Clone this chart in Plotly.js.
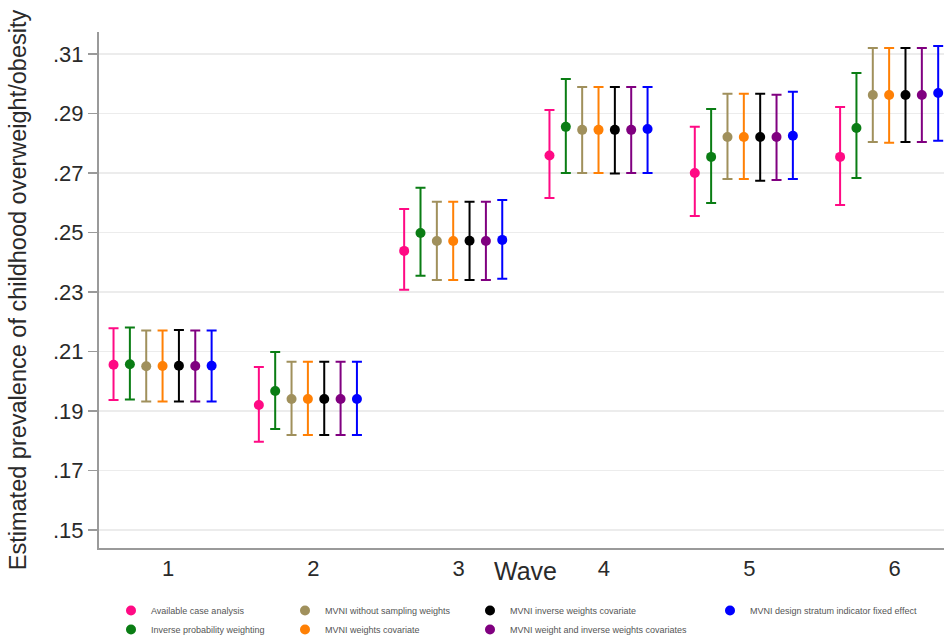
<!DOCTYPE html>
<html>
<head>
<meta charset="utf-8">
<script src="https://cdn.plot.ly/plotly-3.0.1.min.js"></script>
<style>html,body{margin:0;padding:0;background:#fff;}#chart{width:944px;height:639px;}</style>
</head>
<body>
<div id="chart"></div>
<script>
// ---- data ----
const waves = [1, 2, 3, 4, 5, 6];
const seriesNames = [
  "Available case analysis",
  "Inverse probability weighting",
  "MVNI without sampling weights",
  "MVNI weights covariate",
  "MVNI inverse weights covariate",
  "MVNI weight and inverse weights covariates",
  "MVNI design stratum indicator fixed effect"
];
const estAvailable = [0.2055, 0.1920, 0.2438, 0.2759, 0.2700, 0.2754];
const loAvailable  = [0.1937, 0.1796, 0.2307, 0.2616, 0.2555, 0.2592];
const hiAvailable  = [0.2178, 0.2048, 0.2579, 0.2912, 0.2855, 0.2922];

const estIPW = [0.2057, 0.1967, 0.2498, 0.2855, 0.2754, 0.2851];
const loIPW  = [0.1938, 0.1839, 0.2354, 0.2700, 0.2599, 0.2683];
const hiIPW  = [0.2180, 0.2098, 0.2650, 0.3016, 0.2915, 0.3036];

const estNoWeights = [0.2050, 0.1940, 0.2471, 0.2845, 0.2821, 0.2962];
const loNoWeights  = [0.1932, 0.1819, 0.2340, 0.2700, 0.2680, 0.2804];
const hiNoWeights  = [0.2170, 0.2065, 0.2603, 0.2989, 0.2966, 0.3120];

const estWeightsCov = [0.2051, 0.1940, 0.2471, 0.2845, 0.2821, 0.2962];
const loWeightsCov  = [0.1932, 0.1819, 0.2340, 0.2700, 0.2680, 0.2802];
const hiWeightsCov  = [0.2170, 0.2065, 0.2603, 0.2989, 0.2966, 0.3120];

const estInvCov = [0.2052, 0.1940, 0.2472, 0.2845, 0.2821, 0.2962];
const loInvCov  = [0.1932, 0.1819, 0.2340, 0.2698, 0.2674, 0.2804];
const hiInvCov  = [0.2172, 0.2065, 0.2603, 0.2989, 0.2966, 0.3120];

const estBothCov = [0.2051, 0.1940, 0.2471, 0.2845, 0.2821, 0.2962];
const loBothCov  = [0.1932, 0.1819, 0.2340, 0.2700, 0.2676, 0.2804];
const hiBothCov  = [0.2170, 0.2065, 0.2603, 0.2989, 0.2963, 0.3120];

const estStratum = [0.2052, 0.1940, 0.2475, 0.2848, 0.2825, 0.2969];
const loStratum  = [0.1932, 0.1819, 0.2344, 0.2700, 0.2680, 0.2808];
const hiStratum  = [0.2170, 0.2065, 0.2609, 0.2989, 0.2973, 0.3127];

const yTickVals   = [0.15, 0.17, 0.19, 0.21, 0.23, 0.25, 0.27, 0.29, 0.31];
const yTickLabels = [".15", ".17", ".19", ".21", ".23", ".25", ".27", ".29", ".31"];
const xTickLabels = ["1", "2", "3", "4", "5", "6"];
const xTitle = "Wave";
const yTitle = "Estimated prevalence of childhood overweight/obesity";

// ---- styling ----
const colors = ["#ff0a84", "#0a7d14", "#a0905c", "#ff8005", "#000000", "#800080", "#0000ff"];
const allEst = [estAvailable, estIPW, estNoWeights, estWeightsCov, estInvCov, estBothCov, estStratum];
const allLo  = [loAvailable, loIPW, loNoWeights, loWeightsCov, loInvCov, loBothCov, loStratum];
const allHi  = [hiAvailable, hiIPW, hiNoWeights, hiWeightsCov, hiInvCov, hiBothCov, hiStratum];
const legendOf = ["legend", "legend", "legend2", "legend2", "legend3", "legend3", "legend4"];

const dodgeStart = -0.375, dodgeStep = 0.1125;

const traces = seriesNames.map((name, i) => ({
  type: "scatter",
  mode: "markers",
  name: name,
  legend: legendOf[i],
  x: waves.map(w => w + dodgeStart + i * dodgeStep),
  y: allEst[i],
  marker: {color: colors[i], size: 10},
  error_y: {
    type: "data",
    symmetric: false,
    array: allEst[i].map((v, k) => allHi[i][k] - v),
    arrayminus: allEst[i].map((v, k) => v - allLo[i][k]),
    color: colors[i],
    thickness: 2,
    width: 5
  }
}));

// plot area in pixels: x 99..944, y 32..548
const plotL = 99, plotW = 845, plotB = 548, plotH = 516;
const legendTopPx = 596;
const legendBase = {
  xanchor: "left", yanchor: "top",
  orientation: "v",
  bgcolor: "rgba(0,0,0,0)",
  borderwidth: 0,
  font: {family: "Liberation Sans, Arial, sans-serif", size: 9, color: "#555"},
  tracegroupgap: 0,
  y: (plotB - legendTopPx) / plotH
};
const legendColPx = [111, 285, 470, 710];
const axisGray = "#9a9a9a";

const layout = {
  width: 944, height: 639,
  paper_bgcolor: "#fff", plot_bgcolor: "#fff",
  margin: {l: 99, r: 0, t: 32, b: 91, autoexpand: false},
  showlegend: true,
  font: {family: "Liberation Sans, Arial, sans-serif", color: "#333"},
  xaxis: {
    range: [0.525, 6.34],
    tickvals: waves, ticktext: xTickLabels,
    ticks: "", showgrid: false, zeroline: false,
    showline: true, linecolor: axisGray, linewidth: 2,
    tickfont: {size: 22, color: "#2a2a2a"}
  },
  yaxis: {
    range: [0.1439, 0.3174],
    tickvals: yTickVals, ticktext: yTickLabels,
    ticks: "outside", ticklen: 9, tickcolor: axisGray, tickwidth: 1.5,
    showgrid: true, gridcolor: "#ececec", gridwidth: 1.5,
    zeroline: false,
    showline: true, linecolor: axisGray, linewidth: 2,
    tickfont: {size: 22, color: "#2a2a2a"},
    title: {text: yTitle, font: {size: 23.5, color: "#2a2a2a"}, standoff: 20}
  },
  annotations: [{
    text: xTitle, xref: "paper", yref: "paper",
    x: (525 - plotL) / plotW, y: (plotB - 571) / plotH,
    xanchor: "center", yanchor: "middle", showarrow: false,
    font: {size: 25, color: "#2a2a2a"}
  }],
  legend:  Object.assign({}, legendBase, {x: (legendColPx[0] - plotL) / plotW}),
  legend2: Object.assign({}, legendBase, {x: (legendColPx[1] - plotL) / plotW}),
  legend3: Object.assign({}, legendBase, {x: (legendColPx[2] - plotL) / plotW}),
  legend4: Object.assign({}, legendBase, {x: (legendColPx[3] - plotL) / plotW})
};

Plotly.newPlot("chart", traces, layout, {staticPlot: true, displayModeBar: false});
</script>
</body>
</html>
